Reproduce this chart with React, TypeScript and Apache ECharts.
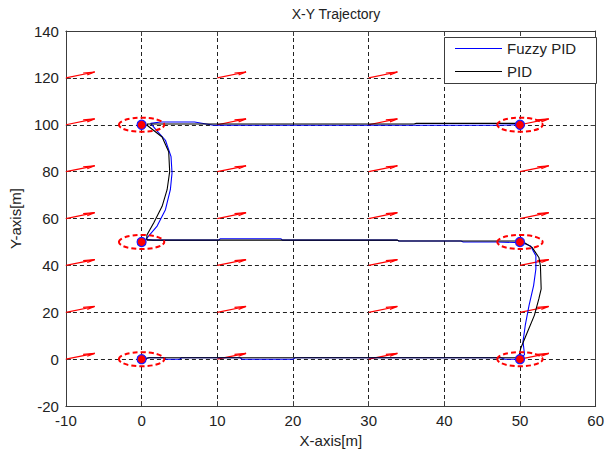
import React, { useEffect, useRef } from "react";
import * as echarts from "echarts";

// ---- data ----
const xTicks = { min: -10, max: 60, interval: 10 };
const yTicks = { min: -20, max: 140, interval: 20 };

const waypoints: number[][] = [
  [0, 0], [50, 0], [50, 50], [0, 50], [0, 100], [50, 100],
];
const toleranceRadius = 3;

const fuzzyPath: number[][] = [
  [0, 0], [1, 0.6], [3, 0.6], [3.2, 0], [5, 0], [5.3, 0.6], [13, 0.6], [13.3, 0], [20, 0],
  [20.3, 0.6], [47.5, 0.6], [48, 0], [50, 0],
  [50.6, 2], [50.4, 7.5], [50.7, 14.5], [51.2, 23], [51.8, 31.4], [52.1, 38.5], [52.1, 44.1],
  [51.4, 48.3], [50.3, 49.7], [47, 50], [42.5, 50], [42.2, 50.4], [34, 50.4], [33.8, 50.8],
  [18.6, 50.8], [18.4, 51.4], [10.4, 51.4], [10.2, 50.8], [1.5, 50.8], [0.6, 51.2],
  [0.75, 51.9], [2.05, 56.8], [3.15, 63.8], [3.8, 72.3], [4.02, 79.4], [3.89, 86.4],
  [3.15, 93.4], [2, 97.5], [1.2, 100.6], [2.5, 101.2], [7, 101.2], [9.5, 99.8], [47, 99.8],
  [50, 100],
];

const pidPath: number[][] = [
  [0, 0], [1, 0.6], [49.5, 0.6], [49.9, 1.8], [50.1, 4.65], [51.0, 11.7], [51.9, 18.7],
  [52.5, 25.8], [52.8, 30], [52.7, 39.9], [52.5, 43.4], [51.6, 47.7], [50.5, 49.9], [50, 50.4],
  [46.6, 50.4], [34, 50.4], [33.8, 50.8], [0.7, 50.8], [0.7, 53], [1.61, 58.2], [2.71, 65.2],
  [3.37, 72.3], [3.71, 80], [3.58, 88.5], [2.71, 94.8], [0.8, 99.6], [0.7, 100.3], [36, 100.3],
  [36.3, 100.6], [50, 100.6],
];

// quiver field
const arrowX = [-10, 10, 30, 50];
const arrowY = [0, 20, 40, 60, 80, 100, 120];
const arrowU = 3.8;
const arrowV = 2.5;

const legendNames = ["Fuzzy PID", "PID"];
const legendColors = ["#0000ff", "#000000"];

const FONT = "'Liberation Sans', Arial, Helvetica, sans-serif";
const TEXT = "#222";

export default function App() {
  const ref = useRef<HTMLDivElement>(null);

  useEffect(() => {
    if (!ref.current) return;
    document.body.style.margin = "0";
    const chart = echarts.init(ref.current, undefined, { renderer: "svg" });

    const arrowData: number[][] = [];
    arrowX.forEach((x) => arrowY.forEach((y) => arrowData.push([x, y])));

    const axisCommon = {
      type: "value" as const,
      axisLine: { show: true, onZero: false, lineStyle: { color: "#3c3c3c", width: 1 } },
      axisTick: { show: true, inside: true, length: 5, lineStyle: { color: "#3c3c3c" } },
    };

    // legend box drawn with graphic elements (lines without markers)
    const legendLeft = 444;
    const legendTop = 37;
    const legendGraphics: any[] = [
      {
        type: "rect",
        shape: { x: legendLeft + 0.5, y: legendTop + 0.5, width: 152, height: 46 },
        style: { fill: "#ffffff", stroke: "#3c3c3c", lineWidth: 1 },
        z: 100,
      },
    ];
    legendNames.forEach((name, i) => {
      const cy = legendTop + 11.5 + i * 23;
      legendGraphics.push({
        type: "line",
        shape: { x1: legendLeft + 11, y1: cy, x2: legendLeft + 58, y2: cy },
        style: { stroke: legendColors[i], lineWidth: 1.2 },
        z: 101,
      });
      legendGraphics.push({
        type: "text",
        x: legendLeft + 63,
        y: cy,
        style: {
          text: name,
          fill: TEXT,
          font: `15px ${FONT}`,
          textVerticalAlign: "middle",
          verticalAlign: "middle",
        },
        z: 101,
      });
    });

    const option: any = {
      animation: false,
      backgroundColor: "#ffffff",
      title: {
        text: "X-Y Trajectory",
        left: 331,
        top: 2,
        textAlign: "center",
        textStyle: { fontSize: 14, fontWeight: "normal", color: TEXT, fontFamily: FONT },
      },
      graphic: legendGraphics,
      grid: { left: 64, right: 9, top: 31, bottom: 45 },
      xAxis: [
        {
          ...axisCommon,
          ...xTicks,
          position: "bottom",
          name: "X-axis[m]",
          nameLocation: "middle",
          nameGap: 21,
          nameTextStyle: { fontSize: 15, color: TEXT, fontFamily: FONT },
          axisLabel: { margin: 7, fontSize: 15, color: TEXT, fontFamily: FONT },
          splitLine: { show: true, lineStyle: { type: [4, 3], color: "#222", width: 1 } },
        },
        {
          ...axisCommon,
          ...xTicks,
          position: "top",
          axisLabel: { show: false },
          splitLine: { show: false },
        },
      ],
      yAxis: [
        {
          ...axisCommon,
          ...yTicks,
          position: "left",
          name: "Y-axis[m]",
          nameLocation: "middle",
          nameGap: 35,
          nameTextStyle: { fontSize: 15, color: TEXT, fontFamily: FONT },
          axisLabel: { margin: 7, fontSize: 15, color: TEXT, fontFamily: FONT },
          splitLine: { show: true, lineStyle: { type: [4, 3], color: "#222", width: 1 } },
        },
        {
          ...axisCommon,
          ...yTicks,
          position: "right",
          axisLabel: { show: false },
          splitLine: { show: false },
        },
      ],
      series: [
        {
          name: "arrows",
          type: "custom",
          xAxisIndex: 0,
          yAxisIndex: 0,
          data: arrowData,
          z: 3,
          renderItem: (_params: any, api: any) => {
            const x = api.value(0);
            const y = api.value(1);
            const a = 0.33;
            const b = 0.33;
            const p0 = api.coord([x, y]);
            const p1 = api.coord([x + arrowU, y + arrowV]);
            const b1 = api.coord([
              x + arrowU - a * (arrowU + b * arrowV),
              y + arrowV - a * (arrowV - b * arrowU),
            ]);
            const b2 = api.coord([
              x + arrowU - a * (arrowU - b * arrowV),
              y + arrowV - a * (arrowV + b * arrowU),
            ]);
            const style = { stroke: "#ff0000", lineWidth: 1.2, fill: "none" };
            return {
              type: "group",
              children: [
                { type: "polyline", shape: { points: [p0, p1] }, style },
                { type: "polyline", shape: { points: [b1, p1, b2] }, style },
              ],
            };
          },
        },
        {
          name: "Fuzzy PID",
          type: "line",
          data: fuzzyPath,
          symbol: "none",
          z: 4,
          lineStyle: { color: legendColors[0], width: 1.1 },
          itemStyle: { color: legendColors[0] },
        },
        {
          name: "PID",
          type: "line",
          data: pidPath,
          symbol: "none",
          z: 5,
          lineStyle: { color: legendColors[1], width: 1.1 },
          itemStyle: { color: legendColors[1] },
        },
        {
          name: "tolerance",
          type: "custom",
          data: waypoints,
          z: 6,
          renderItem: (_params: any, api: any) => {
            const c = api.coord([api.value(0), api.value(1)]);
            const rx = api.size([toleranceRadius, 0])[0];
            const ry = api.size([0, toleranceRadius])[1];
            return {
              type: "ellipse",
              shape: { cx: c[0], cy: c[1], rx, ry },
              style: { fill: "none", stroke: "#ff0000", lineWidth: 2, lineDash: [5, 3] },
            };
          },
        },
        {
          name: "waypoints",
          type: "scatter",
          data: waypoints,
          symbolSize: 9,
          z: 7,
          itemStyle: { color: "#ff0000", borderColor: "#1a1aff", borderWidth: 1.2, opacity: 1 },
        },
      ],
    };

    chart.setOption(option);
    return () => chart.dispose();
  }, []);

  return <div ref={ref} style={{ width: 607, height: 453 }} />;
}
